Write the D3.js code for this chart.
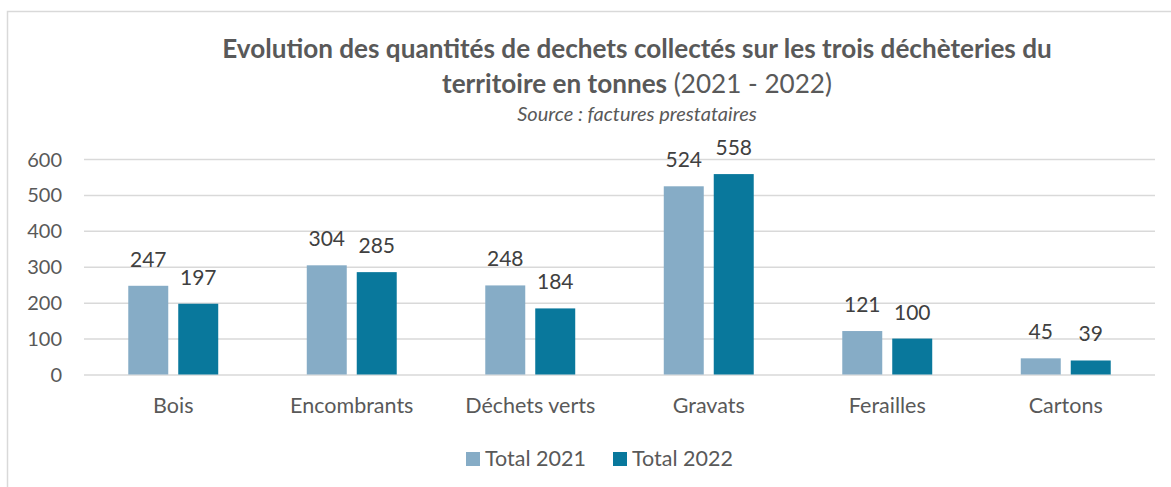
<!DOCTYPE html>
<html>
<head>
<meta charset="utf-8">
<script src="https://cdn.jsdelivr.net/npm/d3@7"></script>
<style>
  body { margin: 0; background: #fff; }
  text { font-family: Lato, "Open Sans", sans-serif; fill: #595959; }
</style>
</head>
<body>
<svg id="chart"></svg>
<script>
(function(){

    var categories = ["Bois", "Encombrants", "Déchets verts", "Gravats", "Ferailles", "Cartons"];
    var series = ["Total 2021", "Total 2022"];
    var values2021 = [247, 304, 248, 524, 121, 45];
    var values2022 = [197, 285, 184, 558, 100, 39];
    var yTicks = [0, 100, 200, 300, 400, 500, 600];
    var colors = ["#86ACC6", "#09789C"];

    var width = 1171, height = 487;
    var margin = {top: 159, right: 16, bottom: 112.5, left: 84};
    var plotW = width - margin.left - margin.right;
    var plotH = height - margin.top - margin.bottom;

    var data = categories.map(function(c, i) {
        return {cat: c, vals: [values2021[i], values2022[i]]};
    });

    var svg = d3.select("svg#chart")
        .attr("width", width)
        .attr("height", height);

    // chart area border (top and left only visible)
    svg.append("path")
        .attr("d", "M7.5,487 V11.5 H1171")
        .style("fill", "none")
        .style("stroke", "#D9D9D9")
        .style("stroke-width", 1.5);

    var g = svg.append("g")
        .attr("transform", "translate(" + margin.left + "," + margin.top + ")");

    var x0 = d3.scaleBand()
        .domain(categories)
        .range([0, plotW])
        .paddingInner(0.496)
        .paddingOuter(0.248);

    var x1 = d3.scaleBand()
        .domain(series)
        .range([0, x0.bandwidth()])
        .paddingInner(0.2);

    var y = d3.scaleLinear()
        .domain([0, 600])
        .range([plotH, 0]);

    // gridlines
    var yAxis = g.append("g")
        .call(d3.axisLeft(y).tickValues(yTicks).tickSize(-plotW).tickPadding(22));
    yAxis.select(".domain").remove();
    yAxis.selectAll(".tick line")
        .style("stroke", "#D9D9D9")
        .style("stroke-width", 1.5);
    yAxis.selectAll(".tick text")
        .style("font-size", "20px")
        .style("font-family", "Lato, sans-serif")
        .attr("fill", "#595959")
        .attr("x", -22)
        .attr("dy", "0.35em");

    // x labels
    var xAxis = g.append("g")
        .attr("transform", "translate(0," + plotH + ")")
        .call(d3.axisBottom(x0).tickSize(0).tickPadding(0));
    xAxis.select(".domain").remove();
    xAxis.selectAll(".tick text")
        .style("font-size", "21.5px")
        .style("font-family", "Lato, sans-serif")
        .attr("fill", "#595959")
        .attr("y", 38.5)
        .attr("dy", 0);

    var groups = g.selectAll("g.grp")
        .data(data)
        .enter()
        .append("g")
        .attr("class", "grp")
        .attr("transform", function(d) { return "translate(" + x0(d.cat) + ",0)"; });

    groups.selectAll("rect")
        .data(function(d) { return d.vals.map(function(v, i) { return {s: series[i], v: v, i: i}; }); })
        .enter()
        .append("rect")
        .attr("x", function(d) { return x1(d.s); })
        .attr("y", function(d) { return y(d.v); })
        .attr("width", x1.bandwidth())
        .attr("height", function(d) { return plotH - y(d.v); })
        .style("fill", function(d) { return colors[d.i]; });

    groups.selectAll("text.val")
        .data(function(d) { return d.vals.map(function(v, i) { return {s: series[i], v: v}; }); })
        .enter()
        .append("text")
        .attr("class", "val")
        .attr("x", function(d) { return x1(d.s) + x1.bandwidth() / 2; })
        .attr("y", function(d) { return y(d.v) - 19; })
        .attr("text-anchor", "middle")
        .style("font-size", "21px")
        .style("fill", "#404040")
        .text(function(d) { return d.v; });

    // title
    var cx = 637;
    var t1 = svg.append("text")
        .attr("x", cx)
        .attr("y", 58)
        .attr("text-anchor", "middle")
        .style("font-weight", "bold")
        .style("font-size", "24px")
        .text("Evolution des quantités de dechets collectés sur les trois déchèteries du");
    var fs = 24 * 830 / t1.node().getComputedTextLength();
    t1.style("font-size", fs + "px");

    var t2 = svg.append("text")
        .attr("x", cx)
        .attr("y", 93)
        .attr("text-anchor", "middle")
        .style("font-size", fs + "px");
    t2.append("tspan").style("font-weight", "bold").text("territoire en tonnes");
    t2.append("tspan").text(" (2021 - 2022)");

    svg.append("text")
        .attr("x", cx)
        .attr("y", 121)
        .attr("text-anchor", "middle")
        .style("font-style", "italic")
        .style("font-size", "20px")
        .text("Source : factures prestataires");

    // legend
    var legendX = [466, 613];
    var legend = svg.append("g");
    series.forEach(function(s, i) {
        legend.append("rect")
            .attr("x", legendX[i])
            .attr("y", 452)
            .attr("width", 14)
            .attr("height", 14)
            .style("fill", colors[i]);
        legend.append("text")
            .attr("x", legendX[i] + 19)
            .attr("y", 465.5)
            .style("font-size", "21.5px")
            .text(s);
    });

})();
</script>
</body>
</html>
